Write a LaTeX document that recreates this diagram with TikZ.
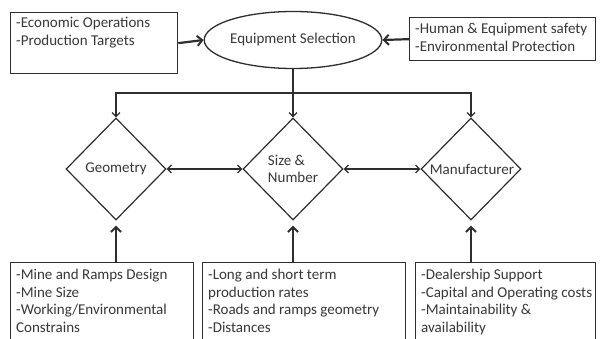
\documentclass[tikz,border=0pt]{standalone}
\usepackage{fontspec}
\setmainfont{Carlito}
\usetikzlibrary{shapes.geometric,arrows.meta}
\definecolor{ln}{HTML}{2E2E2E}
\definecolor{tx}{HTML}{383838}
\begin{document}
\begin{tikzpicture}[x=1pt,y=-1pt,
  every node/.style={font=\fontsize{15}{17.5}\selectfont, text=tx},
  box/.style={draw=ln, line width=1.3pt, rectangle, inner sep=0pt, anchor=north west},
  lbl/.style={anchor=north west, align=left, inner sep=0pt, xshift=6pt, yshift=-5pt},
  ctr/.style={align=left, inner sep=0pt},
  dia/.style={draw=ln, line width=1.2pt, diamond, inner sep=0pt, minimum width=100pt, minimum height=102pt},
  thin/.style={draw=ln, line width=1.2pt, -{Straight Barb[length=4pt,width=8pt,line width=1.2pt]}},
  thinboth/.style={draw=ln, line width=1.2pt, {Straight Barb[length=4pt,width=8pt,line width=1.2pt]}-{Straight Barb[length=4pt,width=8pt,line width=1.2pt]}},
  thick/.style={draw=ln, line width=2.2pt, -{Straight Barb[length=5pt,width=10pt,line width=2pt]}}
]
\useasboundingbox (0,0) rectangle (601,339);
\clip (0,0) rectangle (601,339);
\fill[white] (0,0) rectangle (601,339);

% top boxes and ellipse
\node[box, minimum width=167pt, minimum height=61pt,
  label={[lbl]north west:{-Economic Operations\\-Production Targets}}] (tl) at (10,12) {};
\node[box, minimum width=186pt, minimum height=43pt,
  label={[lbl, yshift=-1pt]north west:{-Human \& Equipment safety\\-Environmental Protection}}] (tr) at (409,17) {};
\node[draw=ln, line width=1.3pt, ellipse, minimum width=157pt, minimum height=57pt, inner sep=0pt] (ell) at (293,40) {Equipment Selection};

% diamonds
\node[dia, label={[ctr]center:Geometry}] (geo) at (116,169) {};
\node[dia, label={[ctr]center:{Size \&\\Number}}] (sz) at (293,169) {};
\node[dia, label={[ctr, xshift=1pt]center:Manufacturer}] (man) at (471,169) {};

% bottom boxes
\node[box, minimum width=183pt, minimum height=90pt,
  label={[lbl, yshift=-2pt]north west:{-Mine and Ramps Design\\-Mine Size\\-Working/Environmental\\Constrains}}] (bl) at (10,262) {};
\node[box, minimum width=203pt, minimum height=90pt,
  label={[lbl, yshift=-2pt]north west:{-Long and short term\\production rates\\-Roads and ramps geometry\\-Distances}}] (bm) at (202,262) {};
\node[box, minimum width=180pt, minimum height=90pt,
  label={[lbl, yshift=-2pt]north west:{-Dealership Support\\-Capital and Operating costs\\-Maintainability \&\\availability}}] (br) at (415,262) {};

% connectors
\coordinate (j) at (293,93);
\draw[thick] (tl.east) -- (ell.west);
\draw[thick] (tr.west) -- (ell.east);
\draw[thin] (ell.south) -- (sz.north);
\draw[thin] (j) -| (geo.north);
\draw[thin] (j) -| (man.north);
\draw[thinboth] (geo.east) -- (sz.west);
\draw[thinboth] (sz.east) -- (man.west);
\draw[thick, shorten >=5pt] (geo.south |- bl.north) -- (geo.south);
\draw[thick, shorten >=5pt] (sz.south |- bm.north) -- (sz.south);
\draw[thick, shorten >=5pt] (man.south |- br.north) -- (man.south);
\end{tikzpicture}
\end{document}
